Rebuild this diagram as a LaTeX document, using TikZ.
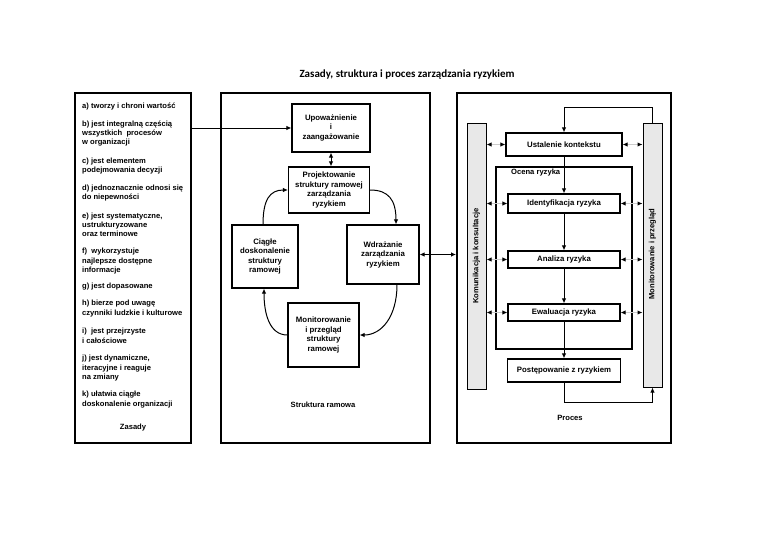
\documentclass[tikz,border=0pt]{standalone}
\usepackage{fontspec}
\setmainfont{Liberation Sans}
\newfontfamily\titlefont{Carlito}
\usetikzlibrary{arrows.meta,calc}
\newcommand\firstln{\rule{0pt}{7pt}}
\begin{document}
\begin{tikzpicture}[x=1pt,y=-1pt,
  item/.style={font=\bfseries\fontsize{7.6}{9.2}\selectfont, align=left, anchor=north west, inner sep=0pt},
  lbl/.style={font=\bfseries\fontsize{7.6}{9.2}\selectfont, inner sep=0pt},
  frame/.style={draw, line width=1.9pt, inner sep=0pt},
  box/.style={draw, line width=1.2pt, font=\bfseries\fontsize{7.8}{9.5}\selectfont, align=center, inner sep=1pt},
  bar/.style={draw, line width=1pt, fill=gray!18, inner sep=0pt},
  arr/.style={-{Latex[length=5pt,width=4.5pt]}, line width=1pt},
  darr/.style={{Latex[length=5pt,width=4.5pt]}-{Latex[length=5pt,width=4.5pt]}, line width=1pt},
  garr/.style={{Latex[length=5pt,width=4.5pt,color=black]}-{Latex[length=5pt,width=4.5pt,color=black]}, draw=gray!40, line width=1.3pt},
]
\useasboundingbox[fill=white] (0,0) rectangle (768,543);

% title
\node[font=\titlefont\bfseries\fontsize{11}{13}\selectfont, inner sep=0pt] (title) at (407,75) {Zasady, struktura i proces zarządzania ryzykiem};

% three frames
\node[frame, minimum width=116pt, minimum height=350pt] (zas) at (133,268) {};
\node[frame, minimum width=209pt, minimum height=350pt] (str) at (325.5,268) {};
\node[frame, minimum width=214pt, minimum height=350pt] (proc) at (564,268) {};

% principles
\node[item] (pa) at (82,101.3) {\firstln a) tworzy i chroni wartość};
\node[item] (pb) at (82,118.9) {\firstln b) jest integralną częścią\\wszystkich \ procesów\\w organizacji};
\node[item] (pc) at (82,156.3) {\firstln c) jest elementem\\podejmowania decyzji};
\node[item] (pd) at (82,183.3) {\firstln d) jednoznacznie odnosi się\\do niepewności};
\node[item] (pe) at (82,210.9) {\firstln e) jest systematyczne,\\ustrukturyzowane\\oraz terminowe};
\node[item] (pf) at (82,246.6) {\firstln f) \ wykorzystuje\\najlepsze dostępne\\informacje};
\node[item] (pg) at (82,281.6) {\firstln g) jest dopasowane};
\node[item] (ph) at (82,298.6) {\firstln h) bierze pod uwagę\\czynniki ludzkie i kulturowe};
\node[item] (pi) at (82,326.6) {\firstln i) \ jest przejrzyste\\i całościowe};
\node[item] (pj) at (82,353.6) {\firstln j) jest dynamiczne,\\iteracyjne i reaguje\\na zmiany};
\node[item] (pk) at (82,389.6) {\firstln k) ułatwia ciągłe\\doskonalenie organizacji};
\node[lbl] (zasl) at (133,428) {Zasady};

% framework
\node[box, minimum width=78pt, minimum height=48pt] (up) at (331,128) {Upoważnienie\\i\\zaangażowanie};
\node[box, minimum width=81pt, minimum height=46pt] (proj) at (329,190) {Projektowanie\\struktury ramowej\\zarządzania\\ryzykiem};
\node[box, minimum width=66pt, minimum height=63pt] (cia) at (265,256.5) {Ciągłe\\doskonalenie\\struktury\\ramowej};
\node[box, minimum width=72pt, minimum height=59pt] (wdr) at (383,254.5) {Wdrażanie\\zarządzania\\ryzykiem};
\node[box, minimum width=71pt, minimum height=64pt] (mon) at (323.5,335) {Monitorowanie\\i przegląd\\struktury\\ramowej};
\node[lbl] (strl) at (323,405) {Struktura ramowa};

\draw[arr] (zas.east |- up.west) -- (up.west);
\draw[darr] (up.south -| 331,0) -- (proj.north -| 331,0);
\draw[arr] ($(cia.north)+(-2,0)$) .. controls +(0,-25) and +(-18,0) .. (proj.west);
\draw[arr] (proj.east) .. controls +(18,0) and +(0,-25) .. ($(wdr.north)+(13,0)$);
\draw[arr] ($(wdr.south)+(14,0)$) .. controls +(0,32) and +(22,0) .. (mon.east);
\draw[arr] (mon.west) .. controls +(-18,0) and +(0,25) .. ($(cia.south)+(-1,0)$);
\draw[darr] (wdr.east) -- (wdr.east -| proc.west);

% process
\node[bar, minimum width=19pt, minimum height=266pt] (kom) at (476.5,256) {};
\node[font=\bfseries\fontsize{7.6}{9}\selectfont, rotate=90, inner sep=0pt] (koml) at (476.5,256) {Komunikacja i konsultacje};
\node[bar, minimum width=19pt, minimum height=264pt] (mbar) at (652.5,255) {};
\node[font=\bfseries\fontsize{7.6}{9}\selectfont, rotate=90, inner sep=0pt] (mbarl) at (652.5,254) {Monitorowanie i przegląd};

\node[draw, line width=1.2pt, minimum width=136pt, minimum height=182pt, inner sep=0pt] (ocena) at (564,258) {};
\node[lbl, anchor=west] (ocl) at (511,173) {Ocena ryzyka};

\node[box, minimum width=116pt, minimum height=23pt] (ust) at (564,144.5) {Ustalenie kontekstu};
\node[box, minimum width=112pt, minimum height=19pt] (ide) at (564,203.5) {Identyfikacja ryzyka};
\node[box, minimum width=112pt, minimum height=17pt] (ana) at (564,259.5) {Analiza ryzyka};
\node[box, minimum width=112pt, minimum height=17pt] (ewa) at (564,312.5) {Ewaluacja ryzyka};
\node[box, minimum width=113pt, minimum height=23pt] (pos) at (564,370.5) {Postępowanie z ryzykiem};
\node[lbl] (procl) at (570,418) {Proces};

\draw[arr] (mbar.north) -- (mbar.north |- 0,107) -| (ust.north);
\draw[arr] (ust.south) -- (ide.north);
\draw[arr] (ide.south) -- (ana.north);
\draw[arr] (ana.south) -- (ewa.north);
\draw[arr] (ewa.south) -- (pos.north);
\draw[arr] (pos.south) -- (pos.south |- 0,402) -| (mbar.south);

\foreach \b in {ust,ide,ana,ewa}{
  \draw[garr] (kom.east |- \b.west) -- (\b.west);
  \draw[garr] (\b.east) -- (mbar.west |- \b.east);
}
\end{tikzpicture}
\end{document}
